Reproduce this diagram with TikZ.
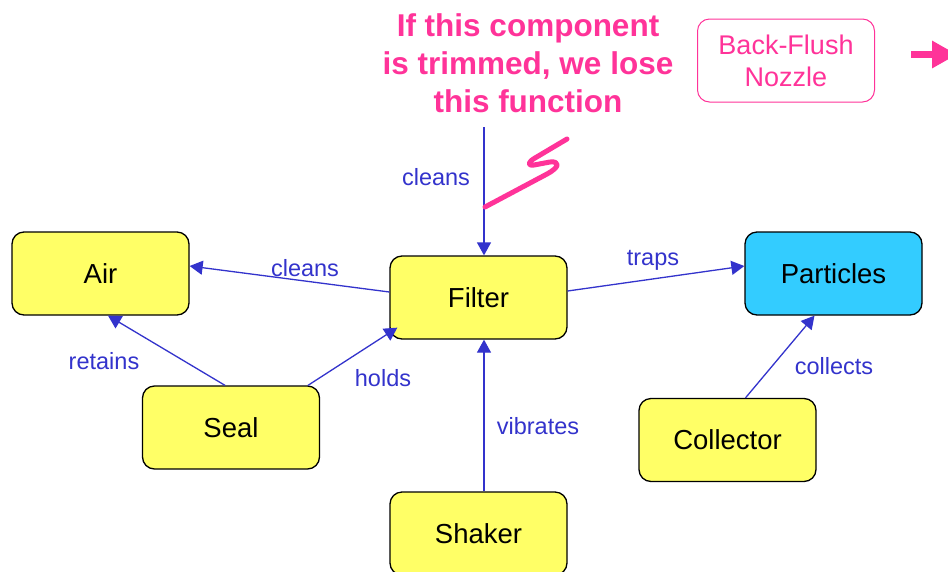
\documentclass[tikz,border=0pt]{standalone}
\usepackage{fontspec}
\setmainfont{Liberation Sans}
\usetikzlibrary{arrows.meta}
\definecolor{eblue}{HTML}{3333CC}
\definecolor{ypale}{HTML}{FFFF66}
\definecolor{cyanbox}{HTML}{33CCFF}
\definecolor{hpink}{HTML}{FF3399}
\tikzset{
  box/.style={draw=black, line width=1.3pt, rounded corners=12pt, fill=ypale,
    minimum width=177pt, minimum height=83pt, inner sep=0pt,
    font=\fontsize{27.5}{31}\selectfont},
  edge/.style={draw=eblue, line width=1.3pt, -{Triangle[length=13pt,width=14pt]}},
  elabel/.style={text=eblue, inner sep=0pt, font=\fontsize{23.5}{27}\selectfont},
}
\begin{document}
\begin{tikzpicture}[x=1pt,y=-1pt]
\useasboundingbox (0,0) rectangle (948,571);
\clip (0,0) rectangle (948,571);
\fill[white] (0,0) rectangle (948,571);

\node[box] (air) at (100.5,273.5) {Air};
\node[box] (filter) at (478.5,297.5) {Filter};
\node[box, fill=cyanbox] (particles) at (833.5,273.5) {Particles};
\node[box] (seal) at (231,427.5) {Seal};
\node[box] (collector) at (727.5,440) {Collector};
\node[box] (shaker) at (478.5,533.5) {Shaker};
\node[box, fill=white, draw=hpink, text=hpink, line width=1pt, align=center,
  font=\fontsize{27}{32}\selectfont] (nozzle) at (786,60.5) {Back-Flush\\Nozzle};

\node[text=hpink, align=center, inner sep=0pt,
  font=\fontsize{31.5}{38}\selectfont\bfseries] (title) at (528,63)
  {If this component\\is trimmed, we lose\\this function};

\coordinate (src) at (484,127);
\draw[edge] (src) -- ([xshift=5.5pt]filter.north);
\draw[edge] ([yshift=5.5pt]filter.west) -- ([yshift=7.5pt]air.east);
\draw[edge] ([yshift=6.5pt]filter.east) -- ([yshift=7.5pt]particles.west);
\draw[edge] ([xshift=-6pt]seal.north) -- ([xshift=7.5pt]air.south);
\draw[edge] ([xshift=77pt]seal.north) -- ([xshift=8pt,yshift=12pt]filter.south west);
\draw[edge] ([xshift=5.5pt]shaker.north) -- ([xshift=5.5pt]filter.south);
\draw[edge] ([xshift=18pt]collector.north) -- ([xshift=-19pt]particles.south);

\node[elabel] (l1) at (436,177) {cleans};
\node[elabel] (l2) at (305,268) {cleans};
\node[elabel] (l3) at (653,260) {traps};
\node[elabel] (l4) at (104,361) {retains};
\node[elabel] (l5) at (383,378) {holds};
\node[elabel] (l6) at (538,426) {vibrates};
\node[elabel] (l7) at (834,366) {collects};

% pink cut mark
\draw[hpink, line width=5pt, line cap=round, line join=round]
  (485,207) -- (547,174) .. controls (560,167) and (560,161) .. (550,162)
  -- (534,165) .. controls (527,166) and (528,162) .. (535,158) -- (567,139);

% pink arrow at right edge
\coordinate (pa) at (911,54.5);
\coordinate (pb) at (957,54.5);
\draw[hpink, line width=6.5pt, -{Triangle[length=25pt,width=26pt]}] (pa) -- (pb);
\end{tikzpicture}
\end{document}
